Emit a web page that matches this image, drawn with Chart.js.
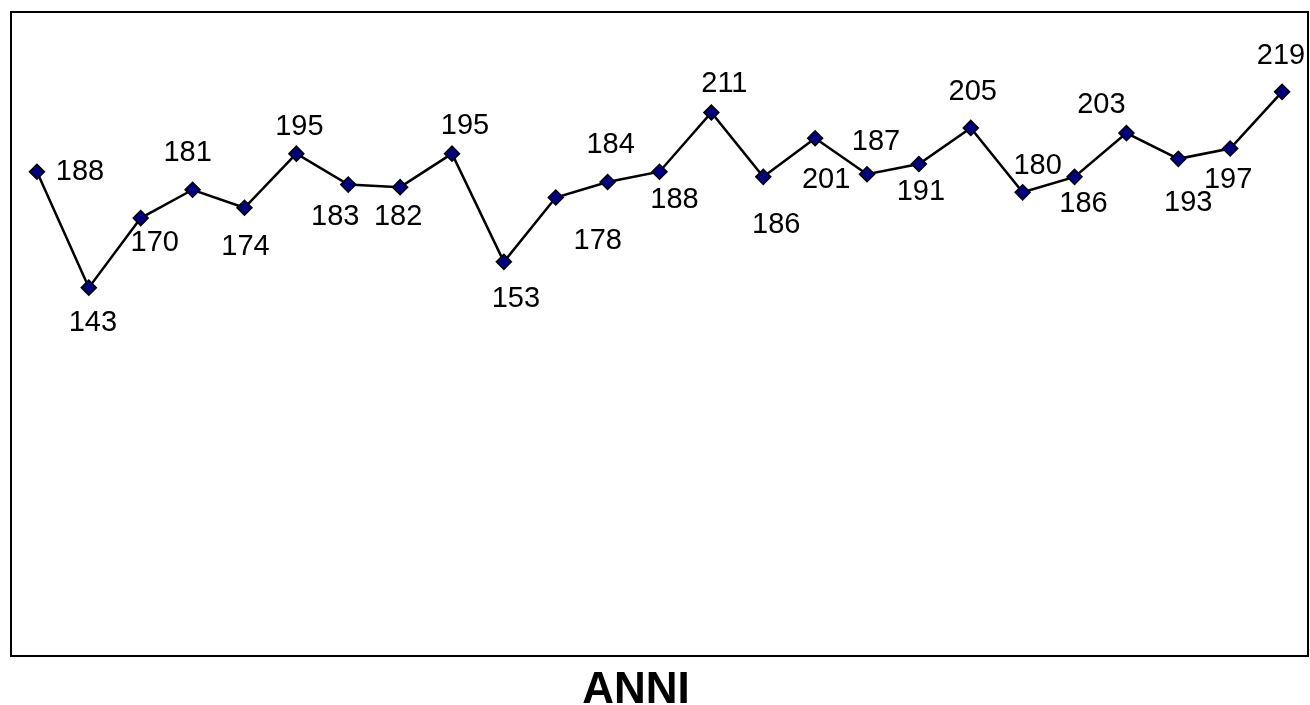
<!DOCTYPE html>
<html>
<head>
<meta charset="utf-8">
<script src="https://cdn.jsdelivr.net/npm/chart.js@4/dist/chart.umd.min.js"></script>
<style>
    html, body { margin: 0; padding: 0; background: #fff; }
    #wrap { position: relative; width: 1310px; height: 705px; }
</style>
</head>
<body>
<div id="wrap"><canvas id="chart"></canvas></div>
<script>
// years are not printed on the axis, only the title "ANNI"
const anni = ['1', '2', '3', '4', '5', '6', '7', '8', '9', '10', '11', '12', '13',
    '14', '15', '16', '17', '18', '19', '20', '21', '22', '23', '24', '25'];
const valori = [188, 143, 170, 181, 174, 195, 183, 182, 195, 153, 178, 184, 188,
    211, 186, 201, 187, 191, 205, 180, 186, 203, 193, 197, 219];
const yMin = 0;
const yMax = 250;

// where each data label sits relative to its point (dx, dy in px)
const labelOffsets = [
    [43, 0], [4, 35], [14, 25], [-5, -37], [1, 39], [3, -27], [-13, 32], [-2, 30],
    [13, -28], [12, 37], [42, 44], [3, -37], [15, 28], [13, -28], [13, 48], [11, 42],
    [9, -32], [2, 28], [2, -36], [15, -26], [9, 27], [-25, -28], [10, 44], [-2, 31],
    [-1, -36]
];

/**
 * Frame around the plot area, value labels and the axis title
 */
const excelLook = {
    id: 'excelLook',
    beforeDatasetsDraw(chart) {
        const { ctx, chartArea: a } = chart;
        ctx.save();
        ctx.strokeStyle = '#000';
        ctx.lineWidth = 2;
        ctx.strokeRect(a.left, a.top, a.right - a.left, a.bottom - a.top);
        ctx.restore();
    },
    afterDatasetsDraw(chart) {
        const { ctx } = chart;
        const meta = chart.getDatasetMeta(0);
        ctx.save();
        ctx.fillStyle = '#000';
        ctx.font = '29px "Liberation Sans", Arial, sans-serif';
        ctx.textAlign = 'center';
        ctx.textBaseline = 'middle';
        meta.data.forEach((pt, i) => {
            const off = labelOffsets[i] || [0, -30];
            ctx.fillText(String(valori[i]), pt.x + off[0], pt.y + off[1]);
        });

        ctx.font = 'bold 44px "Liberation Sans", Arial, sans-serif';
        ctx.textBaseline = 'alphabetic';
        ctx.fillText('ANNI', 636, 703);
        ctx.restore();
    }
};

new Chart(document.getElementById('chart'), {
    type: 'line',
    data: {
        labels: anni,
        datasets: [{
            data: valori,
            borderColor: '#000',
            borderWidth: 2.5,
            tension: 0,
            fill: false,
            pointStyle: 'rectRot',
            pointRadius: 7.5,
            pointHoverRadius: 7.5,
            pointBackgroundColor: '#000080',
            pointBorderColor: '#000',
            pointBorderWidth: 1.5,
            clip: false
        }]
    },
    options: {
        responsive: true,
        maintainAspectRatio: false,
        animation: false,
        layout: {
            autoPadding: false,
            padding: { left: 11, top: 12, right: 2, bottom: 49 }
        },
        plugins: {
            legend: { display: false },
            tooltip: { enabled: false }
        },
        scales: {
            x: {
                display: false,
                offset: true
            },
            y: {
                display: false,
                min: yMin,
                max: yMax
            }
        }
    },
    plugins: [excelLook]
});
</script>
</body>
</html>
